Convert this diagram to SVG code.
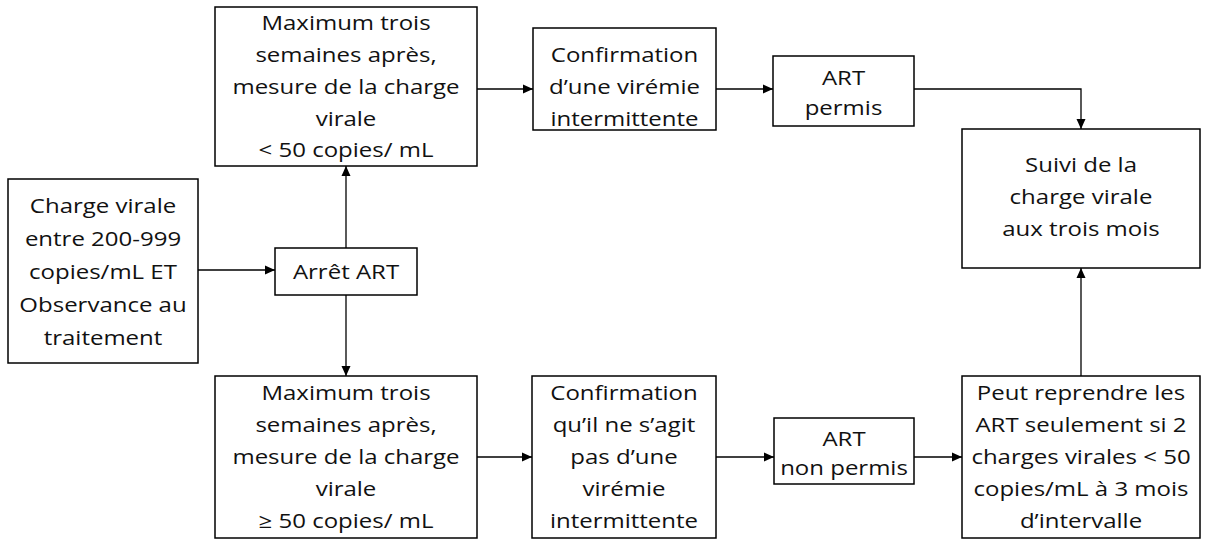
<svg xmlns="http://www.w3.org/2000/svg" width="1206" height="540" viewBox="0 0 1206 540">
<defs>
<marker id="arr" markerWidth="10" markerHeight="10" refX="10" refY="5" orient="auto" markerUnits="userSpaceOnUse">
<path d="M0,0.5 L10,5 L0,9.5 Z" fill="#000"/>
</marker>
<style>
.box{fill:#fff;stroke:#000;stroke-width:1.5}
.t{font-family:"Open Sans","Liberation Sans",sans-serif;font-size:20px;fill:#111;text-anchor:middle}
.c{fill:none;stroke:#000;stroke-width:1.3;marker-end:url(#arr)}
</style>
</defs>
<rect width="1206" height="540" fill="#fff"/>
<g id="connectors">
<path class="c" d="M198,270 H275"/>
<path class="c" d="M346,248 V166"/>
<path class="c" d="M346,295 V376"/>
<path class="c" d="M477,89 H533"/>
<path class="c" d="M716,89 H773"/>
<path class="c" d="M914,89 H1081 V129"/>
<path class="c" d="M477,457 H532"/>
<path class="c" d="M716,457 H774"/>
<path class="c" d="M914,457 H962"/>
<path class="c" d="M1081,376 V268"/>
</g>
<g id="start">
<rect class="box" x="8" y="179" width="190" height="184"/>
<g transform="translate(103,0) scale(1.2,1)"><text class="t"><tspan x="0" y="213">Charge virale</tspan><tspan x="0" y="246">entre 200-999</tspan><tspan x="0" y="279">copies/mL ET</tspan><tspan x="0" y="312">Observance au</tspan><tspan x="0" y="345">traitement</tspan></text></g>
</g>
<g id="arret">
<rect class="box" x="275" y="248" width="142" height="47"/>
<g transform="translate(346,0) scale(1.2,1)"><text class="t"><tspan x="0" y="279">Arrêt ART</tspan></text></g>
</g>
<g id="mesure-haut">
<rect class="box" x="215" y="7" width="262" height="159"/>
<g transform="translate(346,0) scale(1.2,1)"><text class="t"><tspan x="0" y="30">Maximum trois</tspan><tspan x="0" y="62">semaines après,</tspan><tspan x="0" y="94">mesure de la charge</tspan><tspan x="0" y="126">virale</tspan><tspan x="0" y="157">&lt; 50 copies/ mL</tspan></text></g>
</g>
<g id="confirmation-haut">
<rect class="box" x="533" y="28" width="183" height="102"/>
<g transform="translate(624.5,0) scale(1.2,1)"><text class="t"><tspan x="0" y="62">Confirmation</tspan><tspan x="0" y="94">d’une virémie</tspan><tspan x="0" y="126">intermittente</tspan></text></g>
</g>
<g id="art-permis">
<rect class="box" x="773" y="56" width="141" height="70"/>
<g transform="translate(843.5,0) scale(1.2,1)"><text class="t"><tspan x="0" y="85">ART</tspan><tspan x="0" y="115">permis</tspan></text></g>
</g>
<g id="suivi">
<rect class="box" x="962" y="129" width="238" height="139"/>
<g transform="translate(1081,0) scale(1.2,1)"><text class="t"><tspan x="0" y="172">Suivi de la</tspan><tspan x="0" y="204">charge virale</tspan><tspan x="0" y="236">aux trois mois</tspan></text></g>
</g>
<g id="mesure-bas">
<rect class="box" x="215" y="376" width="262" height="162"/>
<g transform="translate(346,0) scale(1.2,1)"><text class="t"><tspan x="0" y="400">Maximum trois</tspan><tspan x="0" y="432">semaines après,</tspan><tspan x="0" y="464">mesure de la charge</tspan><tspan x="0" y="496">virale</tspan><tspan x="0" y="528">≥ 50 copies/ mL</tspan></text></g>
</g>
<g id="confirmation-bas">
<rect class="box" x="532" y="376" width="184" height="162"/>
<g transform="translate(624,0) scale(1.2,1)"><text class="t"><tspan x="0" y="400">Confirmation</tspan><tspan x="0" y="432">qu’il ne s’agit</tspan><tspan x="0" y="464">pas d’une</tspan><tspan x="0" y="496">virémie</tspan><tspan x="0" y="528">intermittente</tspan></text></g>
</g>
<g id="art-non-permis">
<rect class="box" x="774" y="418" width="140" height="66"/>
<g transform="translate(844,0) scale(1.2,1)"><text class="t"><tspan x="0" y="446">ART</tspan><tspan x="0" y="475">non permis</tspan></text></g>
</g>
<g id="reprendre">
<rect class="box" x="962" y="376" width="238" height="162"/>
<g transform="translate(1081,0) scale(1.2,1)"><text class="t"><tspan x="0" y="400">Peut reprendre les</tspan><tspan x="0" y="432">ART seulement si 2</tspan><tspan x="0" y="464">charges virales &lt; 50</tspan><tspan x="0" y="496">copies/mL à 3 mois</tspan><tspan x="0" y="528">d’intervalle</tspan></text></g>
</g>
</svg>
